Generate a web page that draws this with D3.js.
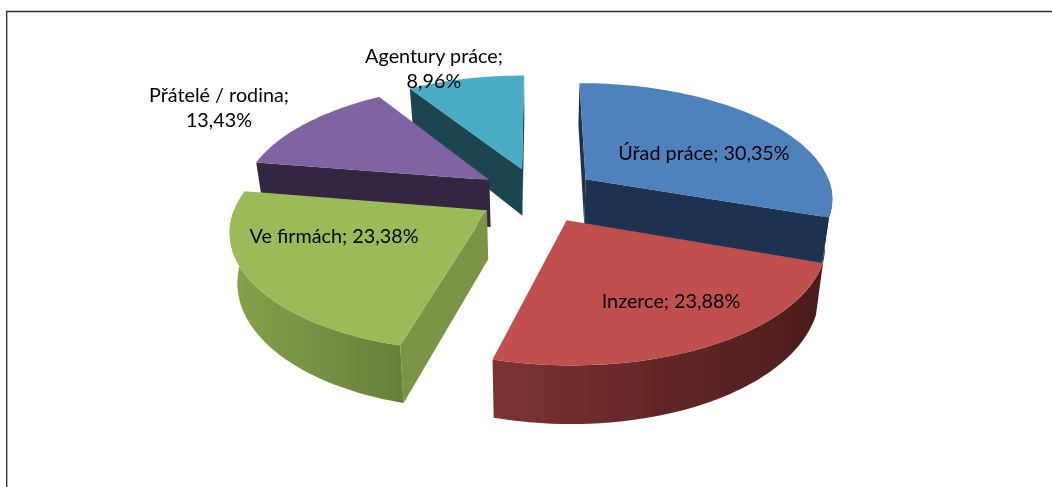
<!DOCTYPE html>
<html><head><meta charset="utf-8">
<script src="https://cdn.jsdelivr.net/npm/d3@7"></script>
<style>html,body{margin:0;padding:0;background:#fff;overflow:hidden}svg{display:block}text{font-family:Lato,"Open Sans",sans-serif;font-size:18.5px;fill:#000}</style>
</head><body><svg id="c" width="1052" height="487"></svg>
<script>
const categories = ["Úřad práce","Inzerce","Ve firmách","Přátelé / rodina","Agentury práce"];
const values = [30.35,23.88,23.38,13.43,8.96];
const topColors = ["#4f81bd","#c0504d","#9bbb59","#8064a2","#4bacc6"];
const sideColors = ["#1e3350","#4d1f1e","#7b9444","#33263f","#1f4550"];
const rimStart = ["#1e3350","#7c3333","#86a24c","#33263f","#1f4550"];
const rimEnd = ["#1e3350","#4a1d1b","#64803a","#33263f","#1f4550"];
const labelLines = [[0],[0],[0],[0,1],[0,1]];
const labelAt = [[704,160],[671,308],[334,243],[219,102],[434,63]];

const W=1052,H=487;
const svg=d3.select("#c");
const cx=538,cy=195,rx=248,ry=115,k=0.15,depth=48,narrow=0.975,explode=0.24;
function project(U,V,bottom){
  const s=1/(1+k*V), f=bottom?narrow:1;
  return [cx+f*rx*U*s, cy-ry*V*s+(bottom?depth*s:0)];
}
const pie=d3.pie().sort(null).value(d=>d);
const arcs=pie(values).map((a,i)=>{
  const mid=(a.startAngle+a.endAngle)/2;
  return {...a,i,ox:explode*Math.sin(mid),oy:explode*Math.cos(mid)};
});
const pt=(d,t,bottom)=>project(d.ox+Math.sin(t),d.oy+Math.cos(t),bottom);
const apex=(d,bottom)=>project(d.ox,d.oy,bottom);
const samples=(a,b)=>d3.range(0,61).map(j=>a+(b-a)*j/60);
const line=d3.line();
function shoelace(p){let s=0;p.forEach((q,i)=>{const r=p[(i+1)%p.length];s+=q[0]*r[1]-r[0]*q[1]});return s/2;}

const defs=svg.append("defs");
const blur=defs.append("filter").attr("id","soft").attr("x","-5%").attr("y","-5%").attr("width","110%").attr("height","110%");
blur.append("feGaussianBlur").attr("stdDeviation",0.55);

// frame
svg.append("path").attr("d",line([[6.7,H],[6.7,11.5],[W,11.5]])).attr("fill","none").attr("stroke","#2a2a2a").attr("stroke-width",1.3);

const g=svg.append("g").attr("filter","url(#soft)");
// back-to-front
const order=[4,3,0,2,1];
order.forEach(idx=>{
  const d=arcs[idx], sg=g.append("g");
  [[d.startAngle,-1],[d.endAngle,1]].forEach(([t,sign])=>{
    const q=[apex(d,false),pt(d,t,false),pt(d,t,true),apex(d,true)];
    if(shoelace(q)*sign>0) sg.append("path").attr("d",line(q)+"Z").attr("fill",sideColors[idx]);
  });
  const a=Math.max(d.startAngle,Math.PI/2), b=Math.min(d.endAngle,Math.PI*1.5);
  if(b>a){
    const ts=samples(a,b);
    const rim=ts.map(t=>pt(d,t,false)).concat(ts.slice().reverse().map(t=>pt(d,t,true)));
    const xs=d3.extent(rim,p=>p[0]);
    const gr=defs.append("linearGradient").attr("id","rim"+idx).attr("gradientUnits","userSpaceOnUse")
      .attr("x1",xs[0]).attr("x2",xs[1]).attr("y1",0).attr("y2",0);
    gr.append("stop").attr("offset",0).attr("stop-color",rimStart[idx]);
    gr.append("stop").attr("offset",1).attr("stop-color",rimEnd[idx]);
    sg.append("path").attr("d",line(rim)+"Z").attr("fill",`url(#rim${idx})`);
  }
  const top=[apex(d,false)].concat(samples(d.startAngle,d.endAngle).map(t=>pt(d,t,false)));
  sg.append("path").attr("d",line(top)+"Z").attr("fill",topColors[idx]);
});

const fmt=v=>v.toFixed(2).replace(".",",")+"%";
defs.append("filter").attr("id","soft2").attr("x","-5%").attr("y","-20%").attr("width","110%").attr("height","140%")
  .append("feGaussianBlur").attr("stdDeviation",0.4);
const texts=svg.append("g").attr("filter","url(#soft2)");
const label=(s,x,y)=>texts.append("text").attr("transform",`translate(${x},${y}) scale(1.07,1)`).attr("text-anchor","middle").text(s);
categories.forEach((c,i)=>{
  const [x,y]=labelAt[i];
  if(labelLines[i].length===1){
    label(`${c}; ${fmt(values[i])}`,x,y);
  }else{
    label(`${c};`,x,y);
    label(fmt(values[i]),x,y+25);
  }
});
</script></body></html>
